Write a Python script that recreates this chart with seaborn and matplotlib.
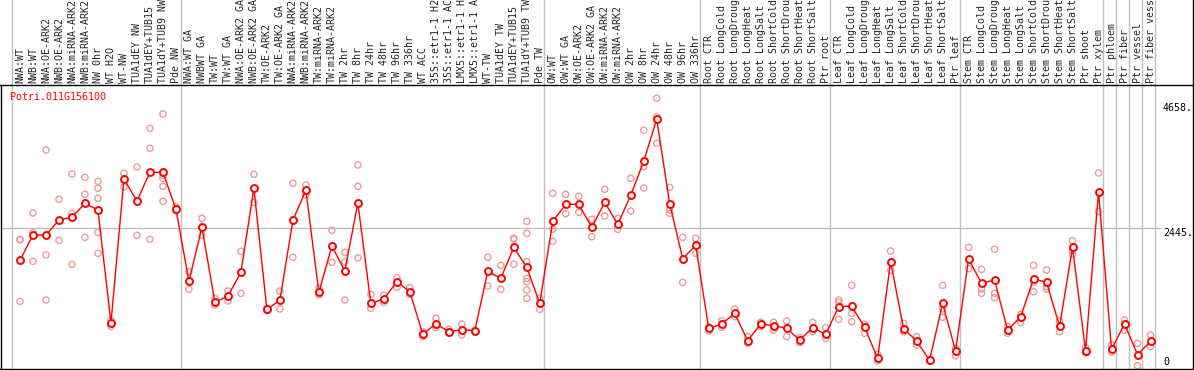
import numpy as np
import pandas as pd
import seaborn as sns
import matplotlib.pyplot as plt
from matplotlib.transforms import blended_transform_factory

# sample labels (one column each)
labels = [
    "NWA:WT", "NWB:WT", "NWA:OE-ARK2", "NWB:OE-ARK2", "NWA:miRNA-ARK2", "NWB:miRNA-ARK2",
    "NW 0hr", "WT H2O", "WT-NW", "TUA1dEY NW", "TUA1dEY+TUB15", "TUA1dY+TUB9 NW", "Pde NW",
    "NWA:WT GA", "NWBWT GA", "TW:WT", "TW:WT GA", "NWA:OE-ARK2 GA", "NWB:OE-ARK2 GA",
    "TW:OE-ARK2", "TW:OE-ARK2 GA", "NWA:miRNA-ARK2", "NWB:miRNA-ARK2", "TW:miRNA-ARK2",
    "TW:miRNA-ARK2", "TW 2hr", "TW 8hr", "TW 24hr", "TW 48hr", "TW 96hr", "TW 336hr",
    "WT ACC", "35S::etr1-1 H2O", "35S::etr1-1 ACC", "LMX5::etr1-1 H2O", "LMX5::etr1-1 ACC",
    "WT-TW", "TUA1dEY TW", "TUA1dEY+TUB15", "TUA1dY+TUB9 TW", "Pde TW",
    "OW:WT", "OW:WT GA", "OW:OE-ARK2", "OW:OE-ARK2 GA", "OW:miRNA-ARK2", "OW:miRNA-ARK2",
    "OW 2hr", "OW 8hr", "OW 24hr", "OW 48hr", "OW 96hr", "OW 336hr",
    "Root CTR", "Root LongCold", "Root LongDrought", "Root LongHeat", "Root LongSalt",
    "Root ShortCold", "Root ShortDrought", "Root ShortHeat", "Root ShortSalt", "Ptr root",
    "Leaf CTR", "Leaf LongCold", "Leaf LongDrought", "Leaf LongHeat", "Leaf LongSalt",
    "Leaf ShortCold", "Leaf ShortDrought", "Leaf ShortHeat", "Leaf ShortSalt", "Ptr leaf",
    "Stem CTR", "Stem LongCold", "Stem LongDrought", "Stem LongHeat", "Stem LongSalt",
    "Stem ShortCold", "Stem ShortDrought", "Stem ShortHeat", "Stem ShortSalt", "Ptr shoot",
    "Ptr xylem", "Ptr phloem", "Ptr fiber", "Ptr vessel", "Ptr fiber vessel",
]

# first column of every experiment group (+ end)
group_starts = [0, 13, 41, 53, 63, 73, 84, 85, 86, 87, 88]

means = [
    1881, 2327, 2327, 2592, 2639, 2886, 2768, 776, 3315, 2927, 3432, 3432, 2786,
    1510, 2462, 1140, 1252, 1669, 3150, 1017, 1175, 2586, 3115, 1316, 2133, 1693,
    2891, 1123, 1199, 1505, 1328, 576, 764, 623, 658, 641, 1687, 1563, 2110, 1757,
    1123, 2568, 2868, 2868, 2462, 2903, 2515, 3027, 3626, 4372, 2874, 1910, 2145,
    682, 758, 946, 464, 758, 729, 682, 476, 693, 576,
    1064, 1075, 699, 153, 1857, 676, 458, 118, 1123, 282,
    1904, 1475, 1534, 652, 882, 1552, 1493, 717, 2110, 288, 3085,
    311, 758, 220, 452,
]

replicates = [
    [2239, 1158, 2250], [2715, 2368, 1863], [3826, 1975, 1181], [2956, 2233, 2586],
    [3403, 2709, 1810], [3344, 3044, 2286], [3273, 3150, 2974, 2374, 2004], [823, 717],
    [3415, 3174], [3526, 2321], [4208, 3855, 2251], [4461, 3380, 3326, 3185, 2921],
    [2827, 2750], [1681, 1369], [2621, 2327], [1211, 1093], [1340, 1164], [2039, 1299],
    [3397, 2903], [1034, 993], [1340, 1023], [3238, 1934], [3209, 3033], [1387, 1269],
    [2410, 1845], [2022, 1181, 1857], [3561, 3185, 1922], [1281, 1034], [1269, 1140],
    [1575, 1405], [1399, 1281], [623, 535], [858, 693], [664, 594], [758, 564], [652, 623],
    [1934, 1428], [1792, 1369], [2269, 2251, 1810], [2568, 2357, 1857, 1563, 1504, 1358, 1211],
    [1211, 1017], [3062, 2427, 2216], [3044, 2703], [3009, 2727], [2604, 2298], [3132, 2662],
    [2621, 2427], [3326, 2750], [4173, 3532, 3156], [4737, 4408, 3943], [3168, 2768, 2709],
    [2286, 1493], [2269, 2004], [711, 635], [817, 699], [1023, 887], [535, 417], [788, 711],
    [788, 652], [811, 535], [517, 435], [788, 623], [693, 505], [1181, 1140, 840],
    [1440, 946, 799], [752, 594], [223, 106], [2045, 1704], [770, 623], [535, 388],
    [129, 106], [1440, 1023, 876], [329, 200], [2110, 1734], [1722, 1375, 1299],
    [2075, 1299, 1222], [711, 594], [929, 782], [1792, 1493, 1328], [1710, 1416, 1375],
    [811, 623], [2227, 2051, 1986], [347, 253], [3420, 2739], [388, 259], [829, 652],
    [417, 24], [564, 358],
]

gene = "Potri.011G156100"
y_ticks = [0, 2445, 4658]

mean_df = pd.DataFrame({"pos": np.arange(len(means)), "value": means})
rep_df = pd.DataFrame(
    [(i, v) for i, reps in enumerate(replicates) for v in reps], columns=["pos", "value"]
)

sns.set_style("white")
plt.rcParams["font.family"] = ["DejaVu Sans Mono", "DejaVu Sans"]

fig = plt.figure(figsize=(11.94, 3.70), dpi=100)
ax = fig.add_axes([0.5 / 1194, 1 / 370, 1192.5 / 1194, 284 / 370])

grey = "#c0c0c0"
x0, x1 = -1.5, 90.27
ax.set_xlim(x0, x1)
ax.set_ylim(-35, 4971)

# horizontal guide at the middle tick
xstop = x0 + (x1 - x0) * 1161 / 1193
ax.hlines(2445, x0, xstop, color=grey, lw=1.0, zorder=1)

# group separators, running up through the header
for b in group_starts:
    ax.axvline(b - 0.64, ymin=0, ymax=369 / 284, clip_on=False, color=grey, lw=1.0, zorder=1)

sns.scatterplot(data=rep_df, x="pos", y="value", ax=ax, marker="o", s=20,
                facecolor="none", edgecolor="#ec9c9c", linewidth=1.0, zorder=2)
sns.lineplot(data=mean_df, x="pos", y="value", ax=ax, estimator=None, color="#ff0000",
             lw=1.0, marker="o", markersize=5, markerfacecolor="white",
             markeredgecolor="#ff0000", markeredgewidth=1.4, zorder=3)

# sample names on top
ax.set_xticks(range(len(labels)))
ax.set_xticklabels(labels, rotation=90, fontsize=7.2)
ax.tick_params(axis="x", top=True, labeltop=True, bottom=False, labelbottom=False,
               length=0, pad=1.5)
ax.set_yticks([])
ax.set_xlabel("")
ax.set_ylabel("")

for s in ax.spines.values():
    s.set_color("black")
    s.set_linewidth(1.0)
ax.plot([1, 1], [1, 369 / 284], transform=ax.transAxes, color="black", lw=1.0, clip_on=False)

ax.text(9.3 / 1193, 1 - 12 / 284, gene, transform=ax.transAxes, color="#ff0000",
        fontsize=7.2, va="center", ha="left")

tr = blended_transform_factory(ax.transAxes, ax.transData)
for t in y_ticks:
    txt = "0" if t == 0 else f"{t}."
    ax.text(1163 / 1193, t, txt, transform=tr, fontsize=7.2, ha="left",
            va="bottom" if t == 0 else "top", color="black")

fig.savefig("out.png", dpi=100)
